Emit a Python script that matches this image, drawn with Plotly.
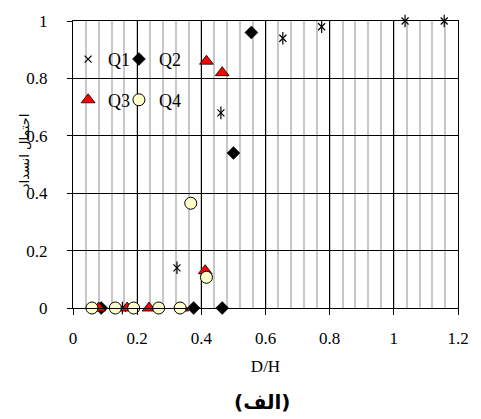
import plotly.graph_objects as go

# ---- data ----
q1_x = [0.154, 0.324, 0.461, 0.654, 0.775, 1.035, 1.157]
q1_y = [0.0, 0.14, 0.68, 0.94, 0.98, 1.0, 1.0]

q2_x = [0.088, 0.376, 0.465, 0.50, 0.556]
q2_y = [0.0, 0.0, 0.0, 0.54, 0.96]

q3_x = [0.08, 0.169, 0.237, 0.339, 0.412, 0.416, 0.465]
q3_y = [0.0, 0.0, 0.0, 0.0, 0.13, 0.86, 0.82]

q4_x = [0.059, 0.132, 0.189, 0.267, 0.334, 0.367, 0.416]
q4_y = [0.0, 0.0, 0.0, 0.0, 0.0, 0.365, 0.107]

x_ticks = [0, 0.2, 0.4, 0.6, 0.8, 1.0, 1.2]
y_ticks = [0, 0.2, 0.4, 0.6, 0.8, 1.0]

SERIF = "Liberation Serif"

W, H = 481, 419
L, R, T, B = 73, 14, 19, 111
pw, ph = W - L - R, H - T - B


def px_x(p):
    return (p - L) / pw


def px_y(p):
    return (H - B - p) / ph


fig = go.Figure()

fig.add_trace(go.Scatter(
    x=q1_x, y=q1_y, mode="markers", name="Q1", legend="legend",
    marker=dict(symbol="x-thin-open", size=7, color="black",
                line=dict(color="black", width=1.2)),
    legendgroup="q1", cliponaxis=False))
fig.add_trace(go.Scatter(
    x=q1_x, y=q1_y, mode="markers", name="Q1", showlegend=False,
    marker=dict(symbol="line-ns-open", size=9, color="black",
                line=dict(color="black", width=1.2)),
    legendgroup="q1", cliponaxis=False))
fig.add_trace(go.Scatter(
    x=q2_x, y=q2_y, mode="markers", name="Q2", legend="legend2",
    marker=dict(symbol="diamond", size=10, color="black",
                line=dict(color="black", width=0.5)),
    cliponaxis=False))
fig.add_trace(go.Scatter(
    x=q3_x, y=q3_y, mode="markers", name="Q3", legend="legend3",
    marker=dict(symbol="triangle-up", size=12, color="#FF0000",
                line=dict(color="black", width=0.8)),
    cliponaxis=False))
fig.add_trace(go.Scatter(
    x=q4_x, y=q4_y, mode="markers", name="Q4", legend="legend4",
    marker=dict(symbol="circle", size=12, color="#FFFFCC",
                line=dict(color="black", width=1)),
    cliponaxis=False))

legend_common = dict(
    orientation="h", xanchor="left", yanchor="top",
    bgcolor="rgba(0,0,0,0)", borderwidth=0,
    font=dict(family=SERIF, size=18, color="black"),
    itemwidth=30,
)

fig.update_layout(
    width=W, height=H,
    margin=dict(l=L, r=R, t=T, b=B),
    paper_bgcolor="white", plot_bgcolor="white",
    showlegend=True,
    legend=dict(x=px_x(68), y=px_y(39), **legend_common),
    legend2=dict(x=px_x(120), y=px_y(39), **legend_common),
    legend3=dict(x=px_x(68), y=px_y(80), **legend_common),
    legend4=dict(x=px_x(120), y=px_y(80), **legend_common),
    shapes=[dict(type="rect", xref="paper", yref="paper",
                 x0=px_x(78), x1=px_x(183), y0=px_y(117), y1=px_y(36),
                 fillcolor="white", line=dict(width=0), layer="between")],
    xaxis=dict(
        range=[0, 1.2], tickvals=x_ticks, ticktext=[f"{v:g}" for v in x_ticks],
        showgrid=True, gridcolor="black", gridwidth=1,
        minor=dict(dtick=0.04, tick0=0, showgrid=True, gridcolor="#C8C8C8",
                   gridwidth=1.5, ticks=""),
        ticks="outside", ticklen=6, tickcolor="black", tickwidth=1,
        showline=True, linecolor="black", linewidth=1, mirror=True,
        zeroline=False, ticklabelstandoff=9,
        tickfont=dict(family=SERIF, size=17, color="black"),
        title=dict(text="D/H", font=dict(family=SERIF, size=17, color="black"),
                   standoff=12),
    ),
    yaxis=dict(
        range=[0, 1], tickvals=y_ticks, ticktext=[f"{v:g}" for v in y_ticks],
        showgrid=True, gridcolor="black", gridwidth=1,
        ticks="outside", ticklen=5, tickcolor="black", tickwidth=1,
        showline=True, linecolor="black", linewidth=1, mirror=True,
        zeroline=False, ticklabelstandoff=16,
        tickfont=dict(family=SERIF, size=17, color="black"),
    ),
    annotations=[
        dict(text="احتمال انسداد", xref="paper", yref="paper",
             x=px_x(23), y=px_y(150), xanchor="center", yanchor="middle",
             textangle=-90, showarrow=False,
             font=dict(family="DejaVu Sans", size=13, color="black")),
        dict(text="<b>(الف)</b>", xref="paper", yref="paper",
             x=px_x(266), y=px_y(403), xanchor="center", yanchor="middle",
             showarrow=False,
             font=dict(family="DejaVu Sans", size=20, color="black")),
    ],
)

fig.write_html("out.html")
